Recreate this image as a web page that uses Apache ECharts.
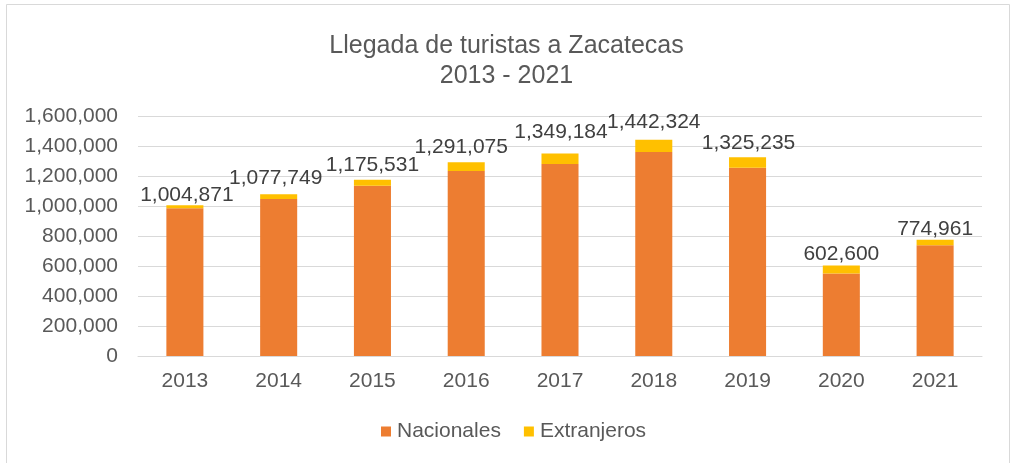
<!DOCTYPE html>
<html>
<head>
<meta charset="utf-8">
<script src="https://cdn.jsdelivr.net/npm/echarts@6/dist/echarts.min.js"></script>
<style>
  html, body { margin: 0; padding: 0; background: #ffffff; }
  #chart { width: 1013px; height: 463px; }
</style>
</head>
<body>
<div id="chart"></div>
<script>
// Tourist arrivals in Zacatecas, 2013-2021
const years = ['2013', '2014', '2015', '2016', '2017', '2018', '2019', '2020', '2021'];
const nacionales = [984871, 1046749, 1135531, 1233075, 1280184, 1360324, 1254235, 549600, 738961];
const extranjeros = [20000, 31000, 40000, 58000, 69000, 82000, 71000, 53000, 36000];
const yTicks = [0, 200000, 400000, 600000, 800000, 1000000, 1200000, 1400000, 1600000];

// hand-placed total labels: lift above the stack and sideways nudge (px)
const labelLift = [0, 6, 4, 5, 11, 7, 4, 1, 0];
const labelShift = [2, -3, 0, -5, 1, 0, 1, 0, 0];

const fmt = v => v.toLocaleString('en-US');
const FONT = '"Liberation Sans", Arial, sans-serif';
const TEXT = '#595959';

const extData = extranjeros.map((v, i) => ({
  value: v,
  label: {
    show: true,
    position: 'top',
    distance: labelLift[i],
    offset: [labelShift[i], 0],
    formatter: () => fmt(nacionales[i] + extranjeros[i])
  }
}));

const chart = echarts.init(document.getElementById('chart'), null, { renderer: 'canvas' });
chart.setOption({
  backgroundColor: '#ffffff',
  animation: false,
  textStyle: { fontFamily: FONT },
  graphic: [{
    type: 'rect',
    shape: { x: 6.5, y: 4.5, width: 1003, height: 470 },
    style: { fill: 'none', stroke: '#d9d9d9', lineWidth: 1 },
    silent: true
  }],
  title: {
    text: 'Llegada de turistas a Zacatecas\n2013 - 2021',
    left: 'center',
    top: 26,
    textStyle: {
      fontFamily: FONT,
      fontSize: 25,
      fontWeight: 'normal',
      color: TEXT,
      lineHeight: 30
    }
  },
  legend: {
    bottom: 16,
    left: 376,
    itemWidth: 10,
    itemHeight: 10,
    itemGap: 23,
    icon: 'rect',
    textStyle: { fontFamily: FONT, fontSize: 21, color: TEXT, padding: [0, 0, 0, 1] },
    data: ['Nacionales', 'Extranjeros']
  },
  grid: { left: 138, right: 31, top: 116, bottom: 107, containLabel: false },
  xAxis: {
    type: 'category',
    data: years,
    axisLine: { lineStyle: { color: '#d9d9d9', width: 1 } },
    axisTick: { show: false },
    axisLabel: { fontFamily: FONT, fontSize: 21, color: TEXT, margin: 15 }
  },
  yAxis: {
    type: 'value',
    min: yTicks[0],
    max: yTicks[yTicks.length - 1],
    interval: yTicks[1] - yTicks[0],
    axisLine: { show: false },
    axisTick: { show: false },
    splitLine: { lineStyle: { color: '#d9d9d9', width: 1 } },
    axisLabel: { fontFamily: FONT, fontSize: 21, color: TEXT, margin: 20, formatter: v => fmt(v) }
  },
  series: [
    {
      name: 'Nacionales',
      type: 'bar',
      stack: 'total',
      barWidth: '39.5%',
      itemStyle: { color: '#ED7D31' },
      data: nacionales
    },
    {
      name: 'Extranjeros',
      type: 'bar',
      stack: 'total',
      barWidth: '39.5%',
      itemStyle: { color: '#FFC000' },
      label: { fontFamily: FONT, fontSize: 21, color: '#404040' },
      data: extData
    }
  ]
});
</script>
</body>
</html>
